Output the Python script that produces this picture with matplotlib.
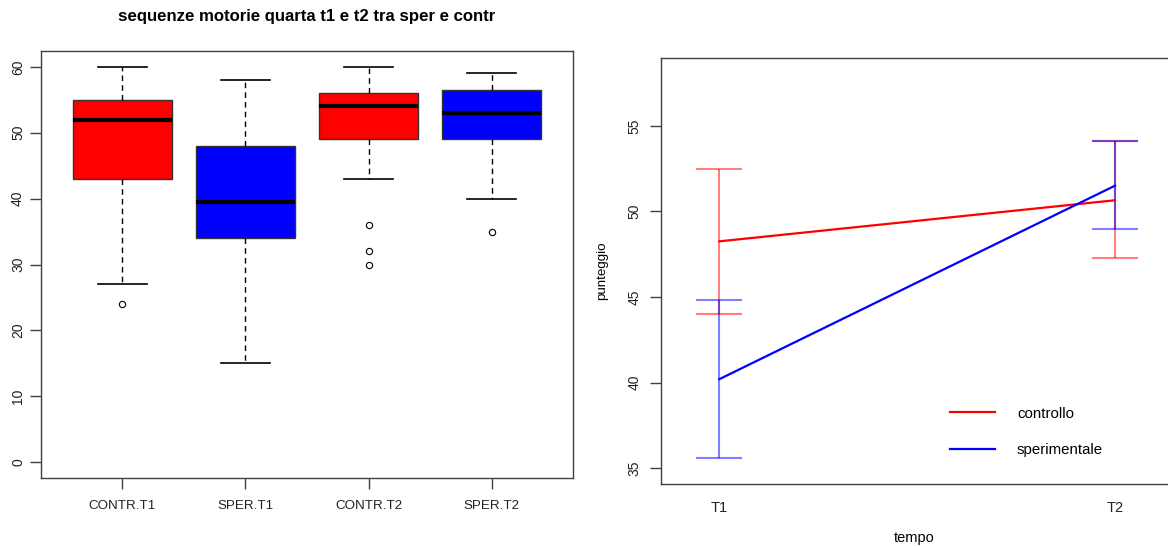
import matplotlib
matplotlib.use("Agg")
import matplotlib.pyplot as plt

plt.rcParams["font.family"] = ["Liberation Sans", "DejaVu Sans"]

# ---- boxplot data (five-number summaries + outliers) ----
groups = ["CONTR.T1", "SPER.T1", "CONTR.T2", "SPER.T2"]
box_colors = ["#ff0000", "#0000ff", "#ff0000", "#0000ff"]
whisker_low = [27, 15, 43, 40]
q1 = [43, 34, 49, 49]
median = [52, 39.5, 54, 53]
q3 = [55, 48, 56, 56.5]
whisker_high = [60, 58, 60, 59]
outliers = [[24], [], [36, 32, 30], [35]]
left_yticks = [0, 10, 20, 30, 40, 50, 60]

# ---- mean/error-bar data ----
times = ["T1", "T2"]
ctrl_mean = [48.25, 50.65]
ctrl_low = [44.0, 47.25]
ctrl_high = [52.5, 54.1]
sper_mean = [40.2, 51.5]
sper_low = [35.6, 48.95]
sper_high = [44.8, 54.1]
right_yticks = [35, 40, 45, 50, 55]

W, H = 1168, 547
fig = plt.figure(figsize=(W / 100, H / 100), dpi=100)


def px_axes(left, top, right, bottom):
    return fig.add_axes([left / W, 1 - bottom / H, (right - left) / W, (bottom - top) / H])


axis_col = "#404040"
tick_fs = 9.6

# ---------------- left: boxplots ----------------
ax1 = px_axes(41, 51, 573, 478)
stats = []
for i, g in enumerate(groups):
    stats.append(dict(label=g, med=median[i], q1=q1[i], q3=q3[i],
                      whislo=whisker_low[i], whishi=whisker_high[i], fliers=outliers[i]))
pos = list(range(1, len(groups) + 1))
bp = ax1.bxp(stats, positions=pos, widths=0.8, patch_artist=True, showfliers=True,
             capwidths=0.4,
             boxprops=dict(edgecolor="#333333", linewidth=1.0),
             medianprops=dict(color="black", linewidth=3, solid_capstyle="butt"),
             whiskerprops=dict(color="black", linestyle=(0, (4, 3)), linewidth=1.0),
             capprops=dict(color="black", linewidth=1.2),
             flierprops=dict(marker="o", markersize=4.5, markerfacecolor="none",
                             markeredgecolor="black", markeredgewidth=0.8))
for patch, c in zip(bp["boxes"], box_colors):
    patch.set_facecolor(c)
ax1.set_xlim(0.34, 4.66)
ax1.set_ylim(-2.4, 62.4)
ax1.set_yticks(left_yticks)
ax1.set_yticklabels([str(v) for v in left_yticks], rotation=90, va="center")
ax1.set_xticks(pos)
ax1.set_xticklabels(groups)
ax1.tick_params(axis="both", labelsize=tick_fs, length=8, width=1, color=axis_col,
                labelcolor="#222222")
ax1.tick_params(axis="y", pad=3.5, labelsize=10)
ax1.tick_params(axis="x", pad=8)
for s in ax1.spines.values():
    s.set_color(axis_col)
    s.set_linewidth(1.0)
fig.text(306.5 / W, 1 - 17 / H, "sequenze motorie quarta t1 e t2 tra sper e contr",
         ha="center", va="center", fontsize=12.1, fontweight="bold")

# ---------------- right: means with error bars ----------------
ax2 = px_axes(661, 58.3, 1168, 484)
x = [1, 2]
ax2.errorbar(x, ctrl_mean,
             yerr=[[m - lo for m, lo in zip(ctrl_mean, ctrl_low)],
                   [hi - m for m, hi in zip(ctrl_mean, ctrl_high)]],
             fmt="none", ecolor=(1, 0, 0, 0.5), elinewidth=1.5, capsize=16.5, capthick=1.5)
ax2.errorbar(x, sper_mean,
             yerr=[[m - lo for m, lo in zip(sper_mean, sper_low)],
                   [hi - m for m, hi in zip(sper_mean, sper_high)]],
             fmt="none", ecolor=(0, 0, 1, 0.5), elinewidth=1.5, capsize=16.5, capthick=1.5)
ax2.plot(x, ctrl_mean, color="#ff0000", lw=1.6, label="controllo")
ax2.plot(x, sper_mean, color="#0000ff", lw=1.6, label="sperimentale")
ax2.set_xlim(0.8527, 2.134)
ax2.set_ylim(34.08, 58.94)
ax2.set_yticks(right_yticks)
ax2.set_yticklabels([str(v) for v in right_yticks], rotation=90, va="center")
ax2.set_xticks(x)
ax2.set_xticklabels(times)
ax2.tick_params(axis="y", labelsize=10, length=8, width=1, color=axis_col,
                labelcolor="#222222", pad=6)
ax2.tick_params(axis="x", labelsize=10.5, length=0, pad=12, labelcolor="#222222")
for s in ax2.spines.values():
    s.set_color(axis_col)
    s.set_linewidth(1.0)
ax2.spines["right"].set_visible(False)
ax2.set_xlabel("tempo", fontsize=10.5, labelpad=12)
ax2.set_ylabel("punteggio", fontsize=9.6, labelpad=14)
leg = ax2.legend(loc="upper left", bbox_to_anchor=(936 / W, 1 - 393 / H),
                 bbox_transform=fig.transFigure, frameon=False, fontsize=10.8,
                 handlelength=3.0, handletextpad=1.5, labelspacing=1.5)

fig.savefig("out.png", dpi=100, facecolor="white")
